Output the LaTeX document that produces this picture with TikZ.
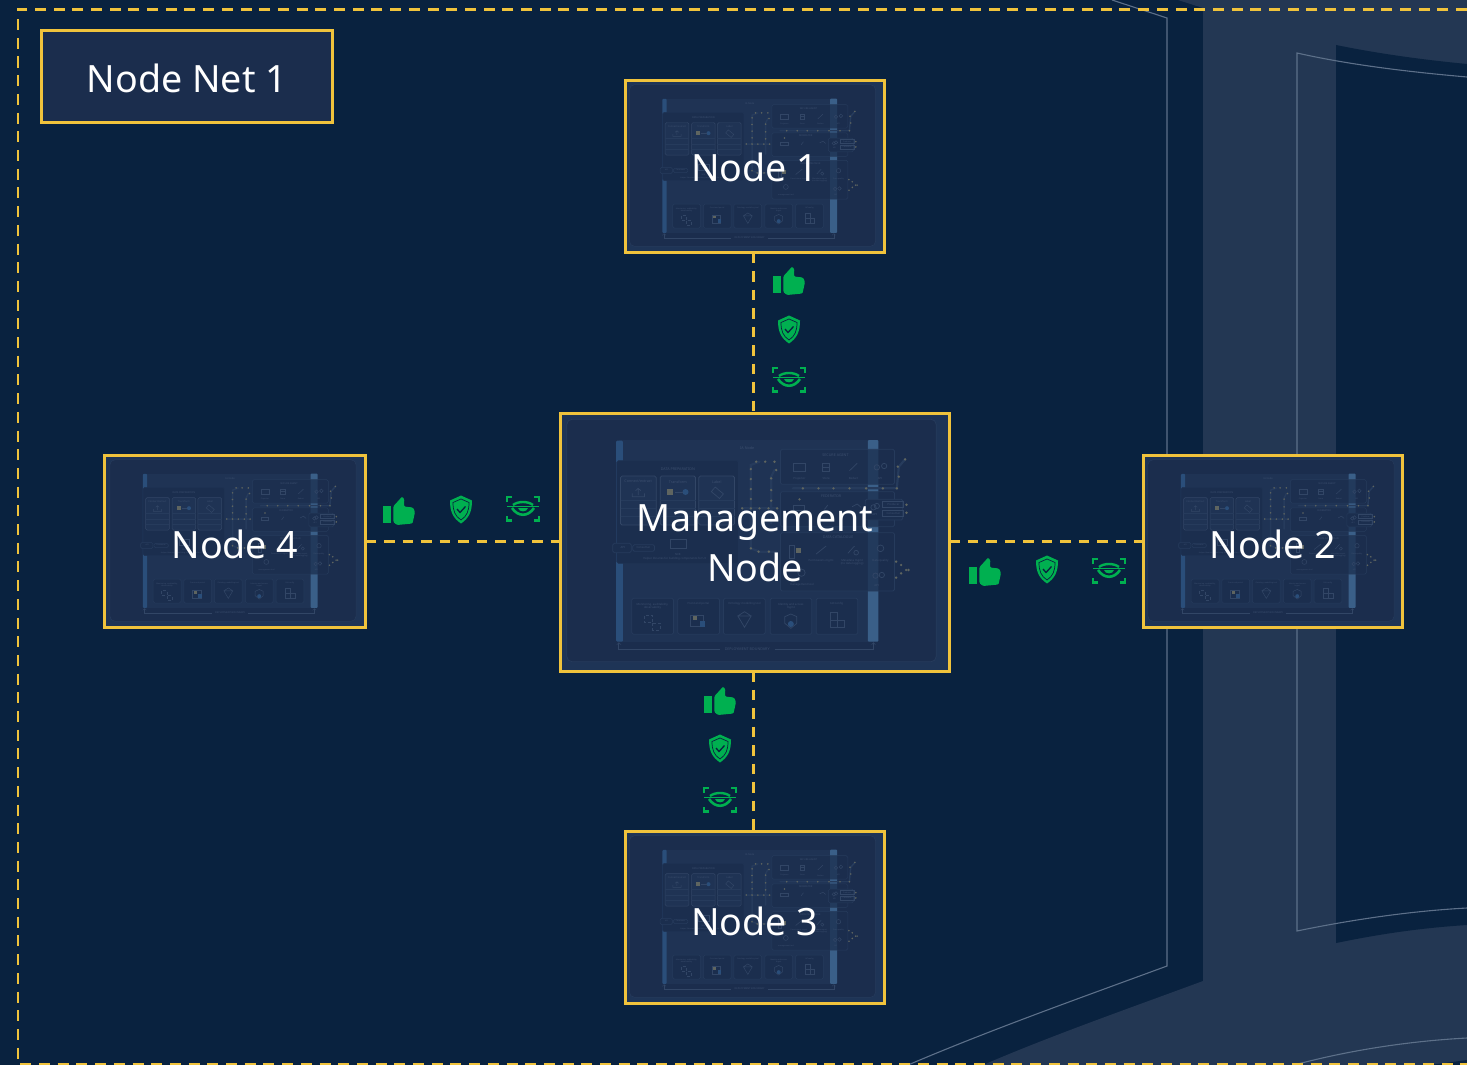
\documentclass[tikz,border=0pt]{standalone}
\usepackage{fontspec}
\setmainfont{Noto Sans}
\definecolor{bgc}{HTML}{09223F}
\definecolor{band}{HTML}{233753}
\definecolor{edgec}{HTML}{5D7089}
\definecolor{boxc}{HTML}{1B2D4D}
\definecolor{yel}{HTML}{F0C33C}
\definecolor{grn}{HTML}{00B050}
\definecolor{tpanel}{HTML}{1F3354}
\definecolor{tdark}{HTML}{1B2E4E}
\definecolor{tline}{HTML}{263B5C}
\definecolor{ttext}{HTML}{3C4F6F}
\definecolor{ticon}{HTML}{324666}
\definecolor{tbarl}{HTML}{2A4E7A}
\definecolor{tbarr}{HTML}{3A5F88}
\definecolor{tdot}{HTML}{5F6560}
\tikzset{
  x=1pt,y=-1pt,
  ybox/.style={draw=yel,line width=3pt,fill=boxc,inner sep=0pt,outer sep=0pt},
  label text/.style={text=white,font=\fontsize{37.6}{50}\selectfont,align=center,inner sep=0pt},
  link/.style={draw=yel,line width=2.6pt,dash pattern=on 10.5pt off 8pt},
  frameline/.style={draw=yel,line width=2.6pt,dash pattern=on 11pt off 7.7pt},
  edgeline/.style={draw=edgec,line width=1.1pt},
  tt/.style={text=ttext,inner sep=0pt,align=center},
  tb/.style={draw=tline,fill=tdark,rounded corners=1.5pt},
  pics/thumbup/.style={code={
    \fill[grn] (-15.7,-4.7) rectangle (-8.3,12.3);
    \fill[grn,rounded corners=1.2pt] (-5.7,-4.7) -- (1,-12) -- (3,-14.5) -- (5.3,-12) -- (5,-4.5) -- (14,-3.5) -- (16,1) -- (13.5,12.5) -- (-2,14) -- (-5.7,11) -- cycle;
  }},
  pics/shieldicon/.style={code={
    \fill[grn] (0,-14.5) -- (11,-9.5) .. controls (11,2) and (8,8) .. (0,13.5) .. controls (-8,8) and (-11,2) .. (-11,-9.5) -- cycle;
    \draw[bgc,line width=.7pt] (0,-11) -- (8,-7.5) .. controls (8,1) and (6,6) .. (0,10) .. controls (-6,6) and (-8,1) .. (-8,-7.5) -- cycle;
    \draw[bgc,line width=1.3pt] (-4,-1) -- (-1,2.5) -- (4.5,-3.5);
  }},
  pics/eyeicon/.style={code={
    \draw[grn,line width=2.2pt] (-16,-7) -- (-16,-12) -- (-11,-12) (11,-12) -- (16,-12) -- (16,-7)
      (16,7) -- (16,11.5) -- (11,11.5) (-11,11.5) -- (-16,11.5) -- (-16,7);
    \draw[grn,line width=2.4pt] (-10,-4) .. controls (-5,-8) and (5,-8) .. (10,-4);
    \draw[grn,line width=2.6pt] (-11,-1) .. controls (-5,8) and (5,8) .. (11,-1);
    \fill[grn] (-5,-1) .. controls (-4,3.5) and (4,3.5) .. (5,-1) -- cycle;
    \draw[grn,line width=1.5pt] (-16,-2.5) -- (16,-2.5);
  }}
}
% faint miniature drawn inside a node box: #1,#2 = box centre, #3 = scale
\newcommand\thumb[3]{%
\begin{scope}[shift={(#1-585*#3,#2-396*#3)},x=#3pt,y=-#3pt]
  \pgfmathsetmacro\fsa{11*#3}\pgfmathsetmacro\fsb{8.5*#3}\pgfmathsetmacro\lw{2.2*#3}
  \tikzset{every path/.append style={line width=\lw pt}}
  \newcommand\tl[3]{\node[tt,font=\fontsize{\fsa}{\fsa}\selectfont] (tx##1y##2) at (##1,##2) {##3};}
  \newcommand\tm[3]{\node[tt,font=\fontsize{\fsb}{\fsb}\selectfont] (tx##1y##2) at (##1,##2) {##3};}
  \fill[boxc!80!tbarl] (0,8) rectangle (1166,782);
  \draw[draw=tline,rounded corners=5pt,fill=boxc] (22,28) rectangle (1130,755);
  \fill[tpanel] (178,90) rectangle (945,695);
  \fill[tbarl,rounded corners=1pt] (170,92) rectangle (190,695);
  \fill[tbarr,rounded corners=1pt] (925,90) rectangle (957,695);
  \draw[tb,draw=tpanel] (172,152) rectangle (537,460);
  \foreach \xa/\xb in {183/290,302/408,418/525}{
    \draw[tb,draw=ticon,fill=tpanel] (\xa,198) rectangle (\xb,345);
    \draw[tline] (\xa,270) -- (\xb,270) (\xa,295) -- (\xb,295) (\xa,320) -- (\xb,320);
  }
  \draw[tline,line cap=round,line width=3*\lw pt] (600,155) -- (574,165) -- (574,415) -- (600,425) -- (650,425) (645,180) -- (635,200) -- (635,340) (548,295) -- (653,295) (700,235) -- (1012,235) -- (1018,170) -- (1037,148);
  \foreach \ya/\yb in {118/223,245/350,368/543}{
    \draw[tb,fill=tdark,fill opacity=.75] (663,\ya) rectangle (1005,\yb);
  }
  \foreach \xa in {217,355,492,632,770}{
    \draw[tb,fill=tdark] (\xa,565) rectangle ++(125,108);
  }
  \draw[tb] (160,400) rectangle (215,428);
  \draw[tb] (917,268) rectangle (1030,330);
  % dots
  \foreach \dx/\dy in {590/155,617/155,645/155,574/177,574/207,574/237,574/267,574/295,548/295,600/295,627/295,653/295,574/415,597/425,628/425,650/180,635/205,635/240,635/272,730/235,777/235,822/235,870/235,920/235,970/235,1012/235,1018/200,1015/170,1037/148,720/268,1041/284,1041/308,1010/455,1025/465,1040/480,1047/480,1025/490,1010/503}{
    \fill[tdot] (\dx,\dy) circle[radius=4pt*#3];
  }
  % small pictograms
  \fill[tdot] (322,237) rectangle (340,255);
  \fill[tbarl] (378,246) circle[radius=9pt*#3];
  \draw[ticon] (345,246) -- (370,246);
  \draw[ticon] (218,250) -- (218,260) -- (255,260) -- (255,250) (236,255) -- (236,235) (228,242) -- (236,235) -- (244,242);
  \draw[ticon,rotate around={-40:(472,247)}] (458,238) rectangle (490,256);
  \draw[ticon] (702,160) rectangle (738,185);
  \draw[ticon] (790,160) rectangle (810,185) (790,172) -- (810,172);
  \draw[ticon] (870,182) -- (893,160);
  \foreach \px/\py in {952/172,974/168,942/292,952/288,948/497,967/495}{\draw[ticon] (\px,\py) circle[radius=8pt*#3];}
  \draw[ticon] (703,285) rectangle (736,302);
  \draw[ticon] (795,298) -- (805,285) (878,290) -- (893,282) -- (905,292);
  \draw[tb,fill=tdark] (220,404) rectangle (285,424);
  \draw[ticon] (970,275) rectangle (1033,293) (970,300) rectangle (1033,318);
  \draw[ticon] (333,388) rectangle (380,415);
  \draw[ticon] (690,405) rectangle (705,445);
  \fill[tdot] (710,413) rectangle (725,428);
  \draw[ticon] (770,432) -- (800,408) (865,430) -- (885,408);
  \draw[ticon] (890,428) circle[radius=7pt*#3] (963,415) circle[radius=10pt*#3] (726,488) circle[radius=11pt*#3];
  \draw[ticon,densely dashed] (255,617) rectangle (278,638) (279,640) rectangle (302,660);
  \draw[ticon] (394,617) rectangle (432,650);
  \fill[tdot] (400,617) rectangle (413,630);
  \fill[tbarl] (420,632) rectangle (436,650);
  \draw[ticon] (555,652) -- (535,618) -- (575,618) -- cycle (555,605) -- (535,618) (555,605) -- (575,618);
  \draw[ticon] (694,612) -- (712,620) -- (712,640) -- (694,655) -- (676,640) -- (676,620) -- cycle;
  \fill[tbarl] (694,642) circle[radius=9pt*#3];
  \draw[ticon] (812,608) rectangle (834,630) (812,630) rectangle (834,652) (834,630) rectangle (855,652);
  \draw[ticon,->] (480,718) -- (178,718) -- (178,697);
  \draw[ticon,->] (645,718) -- (942,718) -- (942,697);
  \tl{563}{115}{\textbf{IA Node}}
  \tl{355}{177}{\textbf{DATA PREPARATION}}
  \tl{828}{137}{\textbf{SECURE AGENT}}
  \tl{815}{259}{\textbf{FEDERATOR}}
  \tl{836}{382}{\textbf{DATA CATALOGUE}}
  \tl{236}{215}{Connect/extract}
  \tl{355}{215}{Transform}
  \tl{472}{215}{Label}
  \tm{720}{206}{Projector}
  \tm{800}{206}{Store}
  \tm{882}{206}{Redact}
  \tm{962}{206}{API}
  \tm{945}{314}{API}
  \tm{1002}{284}{Producer}
  \tm{1002}{309}{Consumer}
  \tm{190}{413}{API}
  \tm{252}{413}{Consumer}
  \tm{355}{432}{SDK}
  \tm{345}{447}{Helper libraries for building components for UI}
  \tm{785}{452}{Permissions mgmt}
  \node[tt,font=\fontsize{\fsb}{\fsb}\selectfont] (txmeta) at (878,457) {Metadata mgmt\\(no data logging)};
  \tm{963}{452}{Data quality}
  \tm{727}{525}{management tool}
  \tm{951}{525}{API}
  \node[tt,font=\fontsize{\fsb}{\fsb}\selectfont] (txmon) at (279,590) {Monitoring, auditability,\\observability};
  \tm{417}{582}{Front end portal}
  \tm{555}{582}{Ontology modelling tool}
  \node[tt,font=\fontsize{\fsb}{\fsb}\selectfont] (txid) at (694,590) {Identity and access\\mgmt};
  \tm{832}{582}{IACconfig}
  \tl{563}{718}{DEPLOYMENT BOUNDARY}
\end{scope}}
\begin{document}
\begin{tikzpicture}
\useasboundingbox (0,0) rectangle (1467,1065);
\fill[bgc] (0,0) rectangle (1467,1065);
% background bands
\fill[band] (1178,0) -- (1203,8) -- (1203,981) .. controls (1130,1008) and (1050,1036) .. (983,1065) -- (1467,1065) -- (1467,0) -- cycle;
\fill[bgc] (1336,45) .. controls (1380,54) and (1425,60) .. (1467,64) -- (1467,925) .. controls (1420,928) and (1380,934) .. (1336,943) -- cycle;
\fill[bgc] (1430,1065) -- (1467,1060) -- (1467,1065) -- cycle;
\draw[edgeline] (1112,0) -- (1167,18) -- (1167,966) .. controls (1080,998) and (990,1030) .. (908,1065);
\draw[edgeline] (1467,77) .. controls (1410,72) and (1350,65) .. (1297,53) -- (1297,931) .. controls (1350,920) and (1410,911) .. (1467,908);
\draw[edgeline] (1294,1065) .. controls (1350,1050) and (1410,1041) .. (1467,1038);
% outer frame
\draw[frameline] (1467,9.5) -- (18,9.5) -- (18,1064) -- (1467,1064);
% boxes
\node[ybox,minimum width=291pt,minimum height=92pt] (title) at (187,76.5) {};
\node[ybox,minimum width=259pt,minimum height=172pt] (n1) at (754.5,166.5) {};
\node[ybox,minimum width=259pt,minimum height=172pt] (n3) at (754.5,917.5) {};
\node[ybox,minimum width=261pt,minimum height=172pt] (n4) at (235,541.5) {};
\node[ybox,minimum width=259pt,minimum height=172pt] (n2) at (1273,541.5) {};
\node[ybox,minimum width=389pt,minimum height=258pt] (mg) at (754.5,542) {};
% connectors
\draw[link] ([xshift=-.8pt]n1.south) -- ([xshift=-.8pt]mg.north);
\draw[link] ([xshift=-.8pt]mg.south) -- ([xshift=-.8pt]n3.north);
\draw[link] (n4.east) -- ([yshift=.5pt]mg.west);
\draw[link] ([yshift=.5pt]mg.east) -- (n2.west);
% miniatures
\thumb{754.5}{166.5}{0.2222}
\thumb{754.5}{917.5}{0.2222}
\thumb{235}{541.5}{0.2222}
\thumb{1273}{541.5}{0.2222}
\thumb{754.5}{542}{0.3333}
% redraw frames over miniatures
\draw[draw=yel,line width=3pt] (n1.south west) rectangle (n1.north east) (n3.south west) rectangle (n3.north east) (n4.south west) rectangle (n4.north east) (n2.south west) rectangle (n2.north east) (mg.south west) rectangle (mg.north east);
% labels
\node[label text] (ltitle) at (187,78) {Node Net 1};
\node[label text] (l1) at (754.5,167) {Node 1};
\node[label text] (l3) at (754.5,921) {Node 3};
\node[label text] (l4) at (235,544) {Node 4};
\node[label text] (l2) at (1273,544) {Node 2};
\node[label text] (lm) at (755,543) {Management\\Node};
% icons
\pic at (789,281) {thumbup};
\pic at (789,330) {shieldicon};
\pic at (789,380) {eyeicon};
\pic at (720,701) {thumbup};
\pic at (720,749) {shieldicon};
\pic at (720,800) {eyeicon};
\pic at (399,511) {thumbup};
\pic at (461,510) {shieldicon};
\pic at (523,509) {eyeicon};
\pic at (985,572) {thumbup};
\pic at (1047,570) {shieldicon};
\pic at (1109,571) {eyeicon};
\end{tikzpicture}
\end{document}
